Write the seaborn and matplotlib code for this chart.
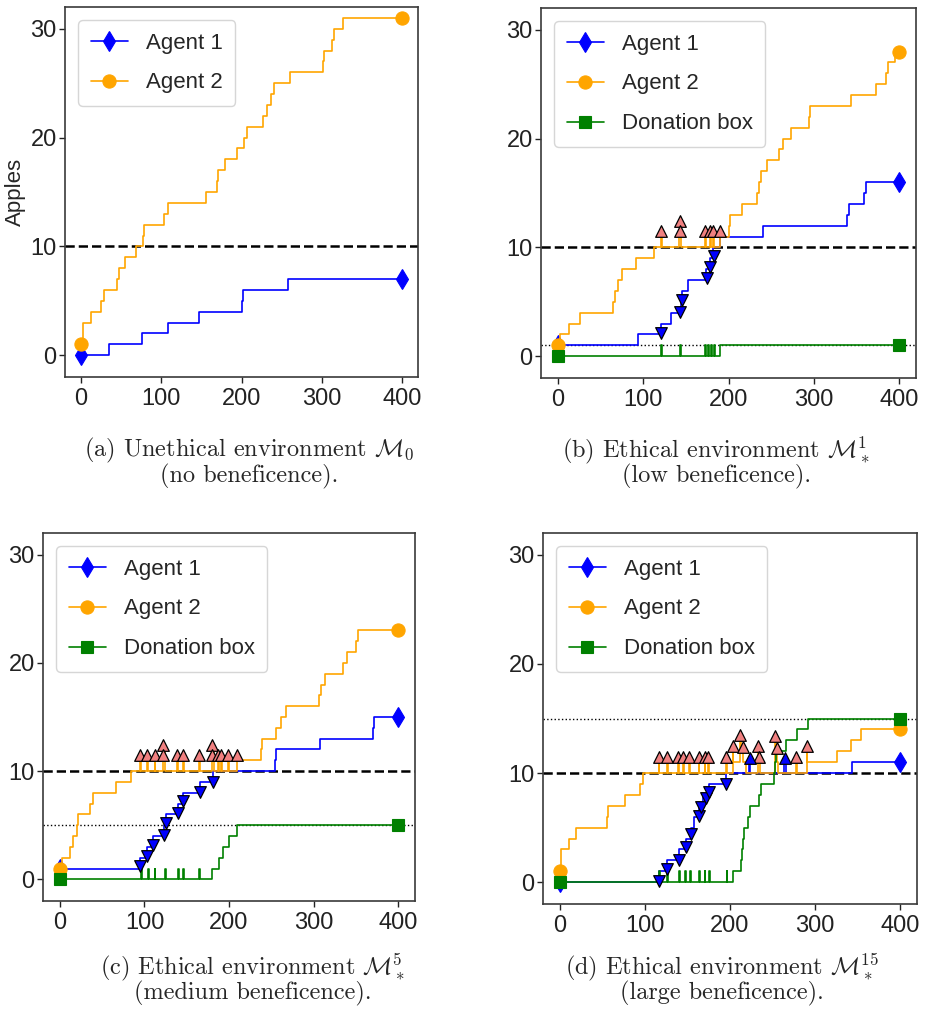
import numpy as np
import pandas as pd
import matplotlib
matplotlib.use("Agg")
import matplotlib.pyplot as plt
import seaborn as sns
from matplotlib import font_manager as fm

# ---------------- data (time step, cumulative apples) ----------------
# (a) unethical environment
a_agent1_t = [0, 35, 76, 109, 147, 200, 202, 258, 400]
a_agent1_v = [0, 1, 2, 3, 4, 5, 6, 7, 7]
a_agent2_t = [0, 2, 12, 25, 28, 45, 47, 55, 68, 77, 79, 104, 108, 156, 169, 171, 179, 194,
              203, 207, 227, 232, 237, 240, 260, 301, 303, 313, 315, 327, 400]
a_agent2_v = [1, 3, 4, 5, 6, 7, 8, 9, 10, 11, 12, 13, 14, 15, 16, 17, 18, 19,
              20, 21, 22, 23, 24, 25, 26, 27, 28, 29, 30, 31, 31]

# (b) low beneficence
b_agent1_t = [0, 94, 121, 132, 144, 146, 153, 174, 178, 182, 190, 241, 339, 341, 359, 361, 400]
b_agent1_v = [1, 2, 3, 4, 5, 6, 7, 8, 9, 10, 11, 12, 13, 14, 15, 16, 16]
b_agent2_t = [0, 2, 13, 26, 65, 67, 70, 75, 91, 112, 121, 122, 142, 143, 144, 173, 174, 178, 179,
              182, 183, 190, 201, 202, 216, 234, 236, 238, 245, 259, 264, 273, 294, 296, 344,
              373, 385, 387, 395, 400]
b_agent2_v = [1, 2, 3, 4, 5, 6, 7, 8, 9, 10, 11, 10, 11, 12, 10, 11, 10, 11, 10,
              11, 10, 11, 12, 13, 14, 15, 16, 17, 18, 19, 20, 21, 22, 23, 24,
              25, 26, 27, 28, 28]
b_box_t = [0, 121, 122, 143, 144, 173, 174, 176, 177, 180, 181, 183, 184, 190, 400]
b_box_v = [0, 1, 0, 1, 0, 1, 0, 1, 0, 1, 0, 1, 0, 1, 1]
b_give_t = [121, 143, 143, 173, 178, 182, 190]
b_give_v = [11.5, 12.4, 11.5, 11.5, 11.5, 11.5, 11.5]
b_take_t = [121, 143, 146, 175, 178, 183]
b_take_v = [2.1, 4.1, 5.2, 7.2, 8.2, 9.2]

# (c) medium beneficence
c_agent1_t = [0, 95, 103, 110, 123, 125, 140, 146, 166, 181, 254, 256, 308, 370, 372, 400]
c_agent1_v = [1, 2, 3, 4, 5, 6, 7, 8, 9, 10, 11, 12, 13, 14, 15, 15]
c_agent2_t = [0, 3, 12, 15, 20, 21, 36, 39, 66, 84, 95, 96, 103, 104, 112, 113, 122, 124,
              139, 140, 146, 147, 165, 166, 180, 182, 187, 188, 191, 192, 199, 200, 209,
              238, 239, 256, 261, 268, 307, 309, 313, 335, 340, 350, 352, 400]
c_agent2_v = [1, 2, 3, 4, 5, 6, 7, 8, 9, 10, 11, 10, 11, 10, 11, 10, 12, 10,
              11, 10, 11, 10, 11, 10, 12, 10, 11, 10, 11, 10, 11, 10, 11,
              12, 13, 14, 15, 16, 17, 18, 19, 20, 21, 22, 23, 23]
c_box_t = [0, 96, 97, 104, 105, 112, 113, 124, 125, 140, 141, 146, 147, 165, 166,
           180, 188, 193, 200, 209, 400]
c_box_v = [0, 1, 0, 1, 0, 1, 0, 1, 0, 1, 0, 1, 0, 1, 0,
           1, 2, 3, 4, 5, 5]
c_give_t = [95, 103, 112, 122, 122, 139, 146, 165, 180, 180, 187, 191, 199, 209]
c_give_v = [11.5, 11.5, 11.5, 12.4, 11.5, 11.5, 11.5, 11.5, 12.4, 11.5, 11.5, 11.5, 11.5, 11.5]
c_take_t = [95, 103, 110, 123, 125, 140, 146, 166, 181]
c_take_v = [1.2, 2.2, 3.2, 4.1, 5.2, 6.1, 7.2, 8.1, 9.0]

# (d) large beneficence
d_agent1_t = [0, 117, 126, 140, 148, 154, 158, 163, 168, 175, 195, 222, 224, 264, 266, 344, 400]
d_agent1_v = [0, 1, 2, 3, 4, 5, 6, 7, 8, 9, 10, 11, 10, 11, 10, 11, 11]
d_agent2_t = [0, 1, 11, 19, 55, 57, 76, 94, 98, 116, 117, 126, 127, 139, 140, 145, 146, 152, 153,
              163, 164, 170, 171, 174, 175, 195, 196, 203, 204, 212, 213, 215, 219, 233, 234,
              235, 253, 254, 255, 256, 278, 279, 290, 291, 326, 342, 354, 400]
d_agent2_v = [1, 3, 4, 5, 6, 7, 8, 9, 10, 11, 10, 11, 10, 11, 10, 11, 10, 11, 10,
              11, 10, 11, 10, 11, 10, 11, 10, 12, 11, 13, 12, 11, 10, 12, 11,
              10, 13, 12, 11, 10, 11, 10, 12, 11, 12, 13, 14, 14]
d_box_t = [0, 117, 118, 126, 127, 140, 141, 147, 148, 153, 154, 164, 165, 170, 171, 175, 176,
           196, 197, 203, 213, 214, 215, 216, 221, 224, 234, 236, 252, 253, 254, 266, 279, 292, 400]
d_box_v = [0, 1, 0, 1, 0, 1, 0, 1, 0, 1, 0, 1, 0, 1, 0, 1, 0,
           1, 0, 1, 2, 3, 4, 5, 6, 7, 8, 9, 10, 11, 12, 13, 14, 15, 15]
d_give_t = [116, 126, 139, 145, 152, 163, 170, 174, 195, 203, 212, 215, 233, 234, 253, 255, 278, 290]
d_give_v = [11.5, 11.5, 11.5, 11.5, 11.5, 11.5, 11.5, 11.5, 11.5, 12.5, 13.5, 12.4, 12.5, 11.5,
            13.4, 12.3, 11.5, 12.5]
d_take_t = [117, 126, 140, 148, 154, 163, 166, 172, 175, 195]
d_take_v = [0.1, 1.2, 2.0, 3.2, 4.4, 6.1, 6.9, 7.7, 8.3, 9.0]
d_agent1_give_t = [223, 265]
d_agent1_give_v = [11.4, 11.4]

threshold = 10
targets = {"b": 1, "c": 5, "d": 15}
xticks = [0, 100, 200, 300, 400]
yticks = [0, 10, 20, 30]
captions = {
    "a": (r"(a) Unethical environment $\mathcal{M}_0$", "(no beneficence)."),
    "b": (r"(b) Ethical environment $\mathcal{M}_*^1$", "(low beneficence)."),
    "c": (r"(c) Ethical environment $\mathcal{M}_*^5$", "(medium beneficence)."),
    "d": (r"(d) Ethical environment $\mathcal{M}_*^{15}$", "(large beneficence)."),
}

# ---------------- style ----------------
sns.set_style("white")
names = {f.name for f in fm.fontManager.ttflist}
main_font = "Liberation Sans Narrow" if "Liberation Sans Narrow" in names else "Liberation Sans"
plt.rcParams["font.family"] = [main_font, "DejaVu Sans"]
plt.rcParams["mathtext.fontset"] = "cm"

W, H = 926, 1015
fig = plt.figure(figsize=(W / 100, H / 100), dpi=100)

def add_ax(l, r, t, b):
    return fig.add_axes([l / W, 1 - b / H, (r - l) / W, (b - t) / H])

axes = {
    "a": add_ax(65, 418, 7, 377),
    "b": add_ax(541, 916, 8, 378),
    "c": add_ax(43, 415, 533, 901),
    "d": add_ax(543, 917, 533, 904),
}

BLUE, ORANGE, GREEN = "#0000ff", "#ffa500", "#008000"
TICK_FS = 17
LEG_FS = 16


def series(ax, t, v, color, marker, ms, label):
    df = pd.DataFrame({"t": t, "v": v})
    sns.lineplot(data=df, x="t", y="v", ax=ax, color=color, lw=1.2,
                 drawstyle="steps-post", marker=marker, markevery=[0, len(t) - 1],
                 markersize=ms, markeredgecolor=color, markerfacecolor=color,
                 markeredgewidth=0.8, label=label, estimator=None, sort=False)


def tri(ax, t, v, marker, face):
    sns.scatterplot(x=t, y=v, ax=ax, marker=marker, s=70, color=face,
                    edgecolor="black", linewidth=0.9, zorder=4, legend=False)


data = {
    "a": dict(a1=(a_agent1_t, a_agent1_v), a2=(a_agent2_t, a_agent2_v)),
    "b": dict(a1=(b_agent1_t, b_agent1_v), a2=(b_agent2_t, b_agent2_v), box=(b_box_t, b_box_v),
              give=(b_give_t, b_give_v), take=(b_take_t, b_take_v)),
    "c": dict(a1=(c_agent1_t, c_agent1_v), a2=(c_agent2_t, c_agent2_v), box=(c_box_t, c_box_v),
              give=(c_give_t, c_give_v), take=(c_take_t, c_take_v)),
    "d": dict(a1=(d_agent1_t, d_agent1_v), a2=(d_agent2_t, d_agent2_v), box=(d_box_t, d_box_v),
              give=(d_give_t, d_give_v), take=(d_take_t, d_take_v),
              give1=(d_agent1_give_t, d_agent1_give_v)),
}

for key, ax in axes.items():
    d = data[key]
    ax.axhline(threshold, color="black", ls="--", lw=1.8, zorder=1)
    if key in targets:
        ax.axhline(targets[key], color="black", ls=":", lw=1.0, zorder=1)
    series(ax, *d["a1"], BLUE, "d", 10.5, "Agent 1")
    series(ax, *d["a2"], ORANGE, "o", 9.5, "Agent 2")
    if "box" in d:
        series(ax, *d["box"], GREEN, "s", 8.5, "Donation box")
    if "give" in d:
        tri(ax, *d["give"], "^", "#f08080")
    if "give1" in d:
        tri(ax, *d["give1"], "^", BLUE)
    if "take" in d:
        tri(ax, *d["take"], "v", BLUE)

    ax.set_xlim(-20, 420)
    ax.set_ylim(-2, 32)
    ax.set_xticks(xticks)
    ax.set_yticks(yticks)
    ax.set_xlabel("")
    ax.set_ylabel("Apples" if key == "a" else "", fontsize=LEG_FS, labelpad=3)
    ax.tick_params(axis="both", which="both", direction="out", length=4, width=1,
                   labelsize=TICK_FS, colors="#222222", bottom=True, left=True)
    ax.tick_params(axis="y", pad=2)
    ax.tick_params(axis="x", pad=4)
    for sp in ax.spines.values():
        sp.set_visible(True)
        sp.set_color("#3a3a3a")
        sp.set_linewidth(1.2)
    leg = ax.legend(loc="upper left", fontsize=LEG_FS, handlelength=1.7, handletextpad=0.8,
                    borderaxespad=0.6, borderpad=0.55, frameon=True, fancybox=True,
                    framealpha=1.0, edgecolor="#d6d6d6", labelspacing=0.85)
    leg.get_frame().set_linewidth(1.0)

cap_pos = {"a": (249, 450, 476), "b": (716, 450, 476), "c": (253, 967, 993), "d": (722, 967, 993)}
for key, (l1, l2) in captions.items():
    cx, y1, y2 = cap_pos[key]
    fig.text(cx / W, 1 - y1 / H, l1, ha="center", va="center", fontsize=17.5, family="cmr10")
    fig.text(cx / W, 1 - y2 / H, l2, ha="center", va="center", fontsize=17.5, family="cmr10")

fig.savefig("out.png", dpi=100, facecolor="white")
